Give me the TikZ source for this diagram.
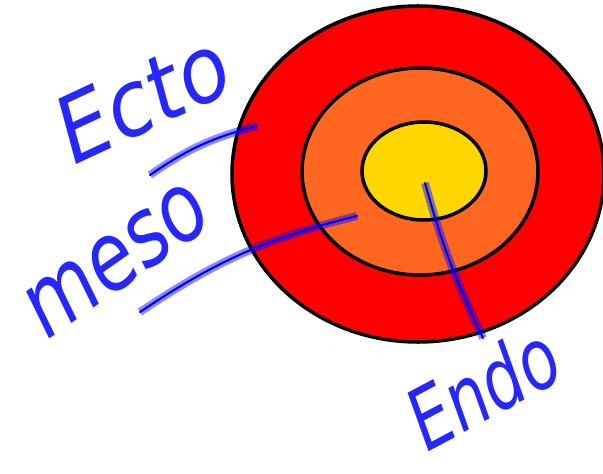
\documentclass[tikz,border=0pt]{standalone}
\usepackage{fontspec}
\setmainfont{DejaVu Sans}
\usepackage{xcolor}
\usepackage{tikz}
\usetikzlibrary{shapes.geometric}

\definecolor{ectored}{RGB}{255,0,0}
\definecolor{mesoorange}{RGB}{255,102,32}
\definecolor{endoyellow}{RGB}{255,215,0}
\definecolor{penblue}{RGB}{0,0,255}

\tikzset{
    layer/.style={ellipse, draw, line width=2pt, inner sep=0pt},
    pen/.style={penblue, line width=1.2pt, line cap=round, preaction={draw, penblue, opacity=0.45, line width=4.5pt}},
    scrawl/.style={text=penblue!85, inner sep=0pt}
}

\begin{document}
\begin{tikzpicture}
        \useasboundingbox (0, 0) rectangle (12.06, 9.46);

        \node[layer, fill=ectored, minimum width=7.44cm, minimum height=6.72cm] (ecto) at (8.36, 5.98) {};
        \node[layer, fill=mesoorange, minimum width=4.72cm, minimum height=4.14cm] (meso) at (8.4, 6.03) {};
        \node[layer, fill=endoyellow, minimum width=2.48cm, minimum height=1.96cm] (endo) at (8.48, 6.04) {};

        \node[scrawl, rotate=25, xscale=0.9, font=\itshape\fontsize{52}{52}\selectfont] (ectolabel) at (2.85, 7.5) {Ecto};
        \node[scrawl, rotate=35, xscale=0.8, font=\itshape\fontsize{54}{54}\selectfont] (mesolabel) at (2.35, 4.25) {meso};
        \node[scrawl, rotate=28, xscale=0.75, font=\itshape\fontsize{48}{48}\selectfont] (endolabel) at (9.65, 1.72) {Endo};

        \coordinate (ectotip) at (5.14, 6.94);
        \coordinate (ectoend) at (3.0, 5.96);
        \coordinate (mesotip) at (7.14, 5.14);
        \coordinate (mesoend) at (2.8, 3.22);
        \coordinate (endotip) at (8.5, 5.8);
        \coordinate (endoend) at (9.66, 2.7);

        \draw[pen] (ectotip) to[bend right=10] (ectoend);
        \draw[pen] (mesotip) to[bend right=10] (mesoend);
        \draw[pen] (endotip) to[bend right=5] (endoend);
    \end{tikzpicture}
\end{document}
